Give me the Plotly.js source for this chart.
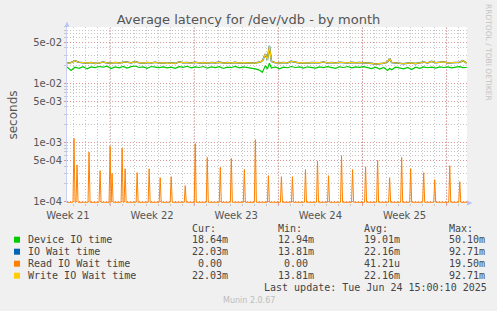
<!DOCTYPE html>
<html>
<head>
<meta charset="utf-8">
<script src="https://cdn.plot.ly/plotly-3.0.1.min.js"></script>
<style>
html,body{margin:0;padding:0;background:#f0f0f0;}
#chart{width:497px;height:311px;}
</style>
</head>
<body>
<div id="chart"></div>
<script>
// ---------------- data ----------------
const seriesStart = Date.UTC(2025, 4, 22, 10, 10); // first sample (UTC)
const rangeEnd = '2025-06-24 16:35';

// hours after seriesStart for the Device / IO Wait / Write IO samples
const lineHours = [
  0,8,16,24,32,40,48,56,64,72,80,88,96,104,112,120,128,136,144,152,160,168,176,184,192,200,208,216,224,232,240,248,256,264,272,280,288,296,304,312,320,328,336,344,352,360,368,376,384,
  390,396,400,404,408,
  416,424,432,440,448,456,464,472,480,488,496,504,512,520,528,536,544,552,560,568,576,584,592,600,608,616,624,632,
  640,644,648,
  656,664,672,680,688,696,704,712,720,728,736,744,752,760,768,776,784,
  790,798
];
const deviceIO = [
  0.0190,0.0165,0.0188,0.0180,0.0192,0.0176,0.0190,0.0185,0.0193,0.0188,0.0196,0.0178,0.0190,0.0184,0.0194,0.0182,0.0192,0.0197,0.0186,0.0190,0.0180,0.0193,0.0189,0.0185,0.0190,0.0183,0.0188,0.0180,0.0192,0.0187,0.0195,0.0184,0.0190,0.0186,0.0193,0.0181,0.0190,0.0185,0.0192,0.0179,0.0189,0.0186,0.0194,0.0183,0.0190,0.0187,0.0180,0.0176,0.0168,
  0.0154,0.0200,0.0175,0.0220,0.0182,
  0.0190,0.0176,0.0188,0.0184,0.0193,0.0186,0.0190,0.0182,0.0191,0.0187,0.0181,0.0190,0.0185,0.0192,0.0188,0.0180,0.0191,0.0186,0.0193,0.0184,0.0190,0.0187,0.0192,0.0185,0.0178,0.0188,0.0175,0.0186,
  0.0165,0.0180,0.0170,
  0.0188,0.0182,0.0176,0.0186,0.0172,0.0188,0.0180,0.0190,0.0184,0.0189,0.0181,0.0190,0.0186,0.0191,0.0183,0.0188,0.0192,
  0.0185,0.0186
];
const writeIO = [
  0.0218,0.0225,0.0240,0.0228,0.0224,0.0220,0.0226,0.0218,0.0222,0.0230,0.0222,0.0220,0.0226,0.0221,0.0228,0.0230,0.0222,0.0234,0.0224,0.0220,0.0226,0.0222,0.0228,0.0221,0.0224,0.0219,0.0223,0.0218,0.0232,0.0224,0.0226,0.0221,0.0228,0.0222,0.0225,0.0220,0.0226,0.0223,0.0229,0.0221,0.0225,0.0222,0.0227,0.0220,0.0224,0.0222,0.0226,0.0221,0.0229,
  0.0240,0.0313,0.0250,0.0430,0.0236,
  0.0224,0.0221,0.0226,0.0222,0.0236,0.0228,0.0222,0.0224,0.0220,0.0226,0.0222,0.0224,0.0230,0.0222,0.0226,0.0221,0.0228,0.0224,0.0222,0.0227,0.0223,0.0226,0.0224,0.0226,0.0218,0.0212,0.0214,0.0220,
  0.0232,0.0265,0.0226,
  0.0222,0.0218,0.0215,0.0220,0.0222,0.0216,0.0224,0.0230,0.0222,0.0236,0.0224,0.0226,0.0232,0.0222,0.0226,0.0224,0.0228,
  0.0242,0.0220
];
const ioWait = writeIO.slice(); // IO Wait equals Write IO Wait (no reads)

// Read IO wait: zero except short spikes (hours after seriesStart, peak seconds)
const readSpikeHours = [14,20,44,66,86,90,110,116,140,164,186,208,236,256,280,306,328,354,376,402,428,450,476,500,522,548,570,596,620,644,668,686,712,734,764,784];
const readSpikePeaks = [1.18e-3,4.2e-4,6.9e-4,3.35e-4,8.7e-4,3.0e-4,8.0e-4,3.6e-4,3.1e-4,3.6e-4,2.55e-4,2.65e-4,1.87e-4,9.6e-4,5.6e-4,3.8e-4,5.4e-4,3.5e-4,1.12e-3,2.76e-4,2.65e-4,2.65e-4,3.5e-4,4.9e-4,2.76e-4,6.0e-4,3.5e-4,3.9e-4,5.0e-4,2.55e-4,5.6e-4,3.6e-4,3.1e-4,2.36e-4,4.07e-4,2.18e-4];
const readEndHour = 798;

// axes
const weekLabels  = ['Week 21','Week 22','Week 23','Week 24','Week 25'];
const weekCenters = ['2025-05-22 12:00','2025-05-29 12:00','2025-06-05 12:00','2025-06-12 12:00','2025-06-19 12:00'];
const weekStarts  = ['2025-05-26','2025-06-02','2025-06-09','2025-06-16','2025-06-23'];
const yTickVals   = [1e-4,5e-4,1e-3,5e-3,1e-2,5e-2];
const yTickText   = ['1e-04','5e-04','1e-03','5e-03','1e-02','5e-02'];
const yMinorVals  = [2e-4,3e-4,4e-4,6e-4,7e-4,8e-4,9e-4,2e-3,3e-3,4e-3,6e-3,7e-3,8e-3,9e-3,2e-2,3e-2,4e-2,6e-2,7e-2,8e-2,9e-2];

// legend table
const seriesNames  = ['Device IO time','IO Wait time','Read IO Wait time','Write IO Wait time'];
const seriesColors = ['#00cc00','#0066b3','#ff8000','#ffcc00'];
const colHeads = ['Cur:','Min:','Avg:','Max:'];
const curVals = ['18.64m','22.03m',' 0.00','22.03m'];
const minVals = ['12.94m','13.81m',' 0.00','13.81m'];
const avgVals = ['19.01m','22.16m','41.21u','22.16m'];
const maxVals = ['50.10m','92.71m','19.50m','92.71m'];
const lastUpdate = 'Last update: Tue Jun 24 15:00:10 2025';

// ---------------- build ----------------
const HOUR = 3600000;
const yRange = [-4.022, -1.046];
const floorVal = Math.pow(10, yRange[0] + 0.012); // rrdtool clamps zero to the bottom edge
const toTime = h => seriesStart + h * HOUR;

const lineX = lineHours.map(toTime);

const readH = [0], readV = [0];
readSpikeHours.forEach((h, i) => {
  readH.push(h - 2, h, h + 2);
  readV.push(0, readSpikePeaks[i], 0);
});
readH.push(readEndHour); readV.push(0);

const mk = (x, y, color, w) => ({
  type: 'scatter', mode: 'lines', x: x, y: y,
  line: {color: color, width: w}, hoverinfo: 'skip', showlegend: false
});

const traces = [
  mk(lineX, deviceIO, seriesColors[0], 1.2),
  mk(lineX, ioWait, seriesColors[1], 1.6),
  mk(readH.map(toTime), readV.map(v => Math.max(v, floorVal)), seriesColors[2], 1),
  mk(lineX, writeIO, seriesColors[3], 1.2)
];

// pixel helpers for decorations (plot area: 67..467 x 27..203)
const PL = 67, PR = 467, PT = 27, PB = 203;
const px = x => (x - PL) / (PR - PL);
const py = y => (PB - y) / (PB - PT);

const GRAY = '#c6c6c6', RED = '#e29494', TXT = '#555555';
const mono = {family: 'DejaVu Sans Mono', size: 10, color: '#444444'};

const shapes = [];
weekStarts.forEach(d => {
  shapes.push({type: 'line', xref: 'x', yref: 'paper', x0: d, x1: d, y0: 0, y1: 1, layer: 'below',
    line: {color: RED, width: 1, dash: '1px,2px'}});
  shapes.push({type: 'line', xref: 'x', yref: 'paper', x0: d, x1: d, y0: py(205.5), y1: 0, layer: 'above',
    line: {color: RED, width: 1}});
});
// axis arrows
shapes.push({type: 'path', xref: 'paper', yref: 'paper', layer: 'above',
  path: `M ${px(64.5)} ${py(27)} L ${px(69.5)} ${py(27)} L ${px(67)} ${py(21.5)} Z`,
  fillcolor: '#b8c4f4', line: {width: 0}});
shapes.push({type: 'path', xref: 'paper', yref: 'paper', layer: 'above',
  path: `M ${px(467)} ${py(200.5)} L ${px(467)} ${py(205.5)} L ${px(472.5)} ${py(203)} Z`,
  fillcolor: '#b8c4f4', line: {width: 0}});

const annotations = [];
const rowY = [239.7, 251.7, 263.7, 275.7];
const colX = [190.3, 276.3, 361.7, 447];
const addText = (text, x, y, font, extra) => annotations.push(Object.assign({
  text: text, xref: 'paper', yref: 'paper', x: px(x), y: py(y),
  xanchor: 'left', yanchor: 'middle', showarrow: false, font: font
}, extra || {}));

colHeads.forEach((h, j) => addText(h, colX[j], 228.3, mono));
seriesNames.forEach((n, i) => {
  shapes.push({type: 'rect', xref: 'paper', yref: 'paper',
    x0: px(14), x1: px(20), y0: py(rowY[i] + 3), y1: py(rowY[i] - 3),
    fillcolor: seriesColors[i], line: {width: 0}});
  addText(n, 26, rowY[i], mono);
  [curVals, minVals, avgVals, maxVals].forEach((col, j) => {
    const v = col[i];
    addText(v.trim(), colX[j] + (v.length - v.trim().length) * 6.02, rowY[i], mono);
  });
});
addText(lastUpdate, 261.7, 287.5, mono);
addText('Munin 2.0.67', 248.5, 300.5, {family: 'DejaVu Sans', size: 8, color: '#bdbdbd'}, {xanchor: 'center'});
addText('RRDTOOL / TOBI OETIKER', 489, 52, {family: 'DejaVu Sans', size: 7.5, color: '#c4c4c4'}, {xanchor: 'center', textangle: 90});

const layout = {
  width: 497, height: 311,
  margin: {l: PL, r: 497 - PR, t: PT, b: 311 - PB, pad: 0},
  paper_bgcolor: '#f0f0f0', plot_bgcolor: '#ffffff',
  font: {family: 'DejaVu Sans', size: 10, color: TXT},
  title: {text: 'Average latency for /dev/vdb - by month',
    font: {family: 'DejaVu Sans', size: 13, color: '#555555'},
    xref: 'container', x: 0.5, xanchor: 'center', yref: 'container', y: 1 - 19.5 / 311, yanchor: 'middle'},
  showlegend: false,
  hovermode: false,
  xaxis: {
    type: 'date', range: [seriesStart, rangeEnd], fixedrange: true,
    tickmode: 'array', tickvals: weekCenters, ticktext: weekLabels,
    showgrid: false, zeroline: false, showline: false,
    ticks: 'outside', ticklen: 3, tickcolor: 'rgba(0,0,0,0)',
    tickfont: {family: 'DejaVu Sans', size: 10, color: TXT},
    minor: {tick0: '2025-05-22', dtick: 86400000, showgrid: true, gridcolor: GRAY, griddash: '1px,2px', gridwidth: 1,
      ticks: 'outside', ticklen: 2, tickcolor: GRAY}
  },
  yaxis: {
    type: 'log', range: yRange, fixedrange: true,
    tickmode: 'array', tickvals: yTickVals, ticktext: yTickText,
    showgrid: true, gridcolor: RED, griddash: '1px,2px', gridwidth: 1,
    ticks: 'outside', ticklen: 2, tickcolor: RED,
    showline: true, linecolor: '#c8d0f4', linewidth: 1,
    zeroline: false,
    tickfont: {family: 'DejaVu Sans', size: 10, color: TXT},
    title: {text: 'seconds', font: {family: 'DejaVu Sans', size: 12, color: TXT}, standoff: 12},
    minor: {tickmode: 'array', tickvals: yMinorVals, showgrid: true, gridcolor: GRAY, griddash: '1px,2px', gridwidth: 1,
      ticks: 'outside', ticklen: 2, tickcolor: GRAY}
  },
  shapes: shapes,
  annotations: annotations
};

Plotly.newPlot('chart', traces, layout, {staticPlot: true, displayModeBar: false});
</script>
</body>
</html>
